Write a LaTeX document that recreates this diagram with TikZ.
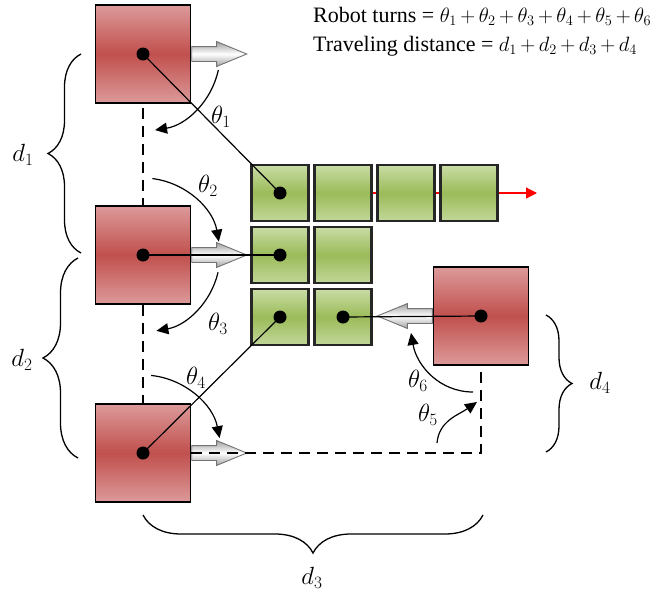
\documentclass[tikz,border=0pt]{standalone}
\usepackage{fontspec}
\setmainfont{Liberation Serif}
\usetikzlibrary{arrows.meta,shapes.arrows,decorations.pathreplacing,backgrounds}

\definecolor{robotlight}{HTML}{DC9A9A}
\definecolor{robotdark}{HTML}{C0504D}
\definecolor{blocklight}{HTML}{C9DCA5}
\definecolor{blockdark}{HTML}{9BBB59}

\tikzset{
  robot/.style={draw, line width=1.5pt, minimum width=95pt, minimum height=98pt, inner sep=0pt,
    top color=robotlight, bottom color=robotlight, middle color=robotdark},
  block/.style={draw=black!85, line width=2.2pt, minimum width=57pt, minimum height=56pt, inner sep=0pt,
    top color=blocklight, bottom color=blocklight!85!blockdark, middle color=blockdark},
  movearrow/.style={single arrow, draw=black!55, line width=0.9pt, inner sep=0pt,
    text height=14pt, text depth=0pt, minimum height=55pt,
    single arrow head extend=5pt, single arrow tip angle=45,
    top color=gray!75, bottom color=gray!75, middle color=white},
  link/.style={line width=1.2pt},
  track/.style={line width=1.3pt, dash pattern=on 11pt off 7pt},
  anglearc/.style={line width=1.2pt, ->},
  curly/.style={decorate, decoration={brace, amplitude=#1}, line width=1.3pt},
  lbl/.style={font=\fontsize{24}{28}\selectfont}
}

\begin{document}
\begin{tikzpicture}[x=1pt, y=1pt, >={Triangle[length=12pt,width=11pt]}, font=\fontsize{22}{26}\selectfont]
\useasboundingbox (0,0) rectangle (667,-592);

% robots
\node[robot] (r1) at (143,-54) {};
\node[robot] (r2) at (143,-255) {};
\node[robot] (r3) at (143,-453) {};
\node[robot] (r4) at (481,-316) {};

% blocks already placed
\foreach \i/\x in {1/280,2/343,3/406,4/469}
  \node[block] (g1\i) at (\x,-193) {};
\foreach \i/\x in {1/280,2/343} {
  \node[block] (g2\i) at (\x,-255) {};
  \node[block] (g3\i) at (\x,-317) {};
}

% line of the finished row
\coordinate (redtip) at (537,-193);
\begin{pgfonlayer}{background}
  \draw[red, line width=1.2pt, -{Triangle[length=11pt,width=11pt]}] (g12.center) -- (redtip);
\end{pgfonlayer}

% heading of each robot
\node[movearrow, anchor=west] (a1) at (r1.east) {};
\node[movearrow, anchor=west] (a2) at (r2.east) {};
\node[movearrow, anchor=west] (a3) at (r3.east) {};
\node[movearrow, shape border rotate=180, anchor=east] (a4) at (r4.west) {};

% path of the robot
\coordinate (corner) at (r4.center |- r3.center);
\draw[track] ([yshift=-4pt]r1.south) -- (r2.north);
\draw[track] (r2.south) -- (r3.north);
\draw[track] (r3.east) -- (corner) -- (r4.south);

% robot to block
\draw[link] (r1.center) -- (g11.center);
\draw[link] (r2.center) -- (g21.center);
\draw[link] (r3.center) -- (g31.center);
\draw[link] (r4.center) -- (g32.center);
\foreach \n in {r1,r2,r3,r4,g11,g21,g31,g32}
  \fill (\n.center) circle[radius=6.5];

% turning angles
\draw[anglearc] ([shift={(-12:77)}]r1.center) arc[start angle=-12, end angle=-81, radius=77];
\draw[anglearc] ([shift={(83:77)}]r2.center) arc[start angle=83, end angle=10, radius=77];
\draw[anglearc] ([shift={(-13:77)}]r2.center) arc[start angle=-13, end angle=-80, radius=77];
\draw[anglearc] ([shift={(84:78)}]r3.center) arc[start angle=84, end angle=11, radius=78];
\draw[anglearc] ([shift={(-44,10)}]corner) to[out=85, in=215] ([shift={(-4,51)}]corner);
\draw[anglearc] ([shift={(-8,61)}]corner) to[out=180, in=-80] ([shift={(-70,120)}]corner);
\node[lbl] (t1) at (221,-117) {$\theta_1$};
\node[lbl] (t2) at (208,-186) {$\theta_2$};
\node[lbl] (t3) at (218,-324) {$\theta_3$};
\node[lbl] (t4) at (196,-378) {$\theta_4$};
\node[lbl] (t5) at (428,-415) {$\theta_5$};
\node[lbl] (t6) at (418,-381) {$\theta_6$};

% distances
\draw[curly=33] (81,-253) -- (81,-54);
\draw[curly=35] (78,-458) -- (78,-258);
\draw[curly=38] (483,-515) -- (143,-515);
\draw[curly=26] (546,-315) -- (546,-452);
\node[lbl] (d1) at (23,-155) {$d_1$};
\node[lbl] (d2) at (22,-360) {$d_2$};
\node[lbl] (d3) at (312,-578) {$d_3$};
\node[lbl] (d4) at (600,-383) {$d_4$};

% totals
\node[anchor=west, inner sep=0pt] (turns) at (313,-16) {Robot turns = $\medmuskip=3mu \theta_1+\theta_2+\theta_3+\theta_4+\theta_5+\theta_6$};
\node[anchor=west, inner sep=0pt] (dist) at (313,-46) {Traveling distance = $\medmuskip=3mu d_1+d_2+d_3+d_4$};
\end{tikzpicture}
\end{document}
